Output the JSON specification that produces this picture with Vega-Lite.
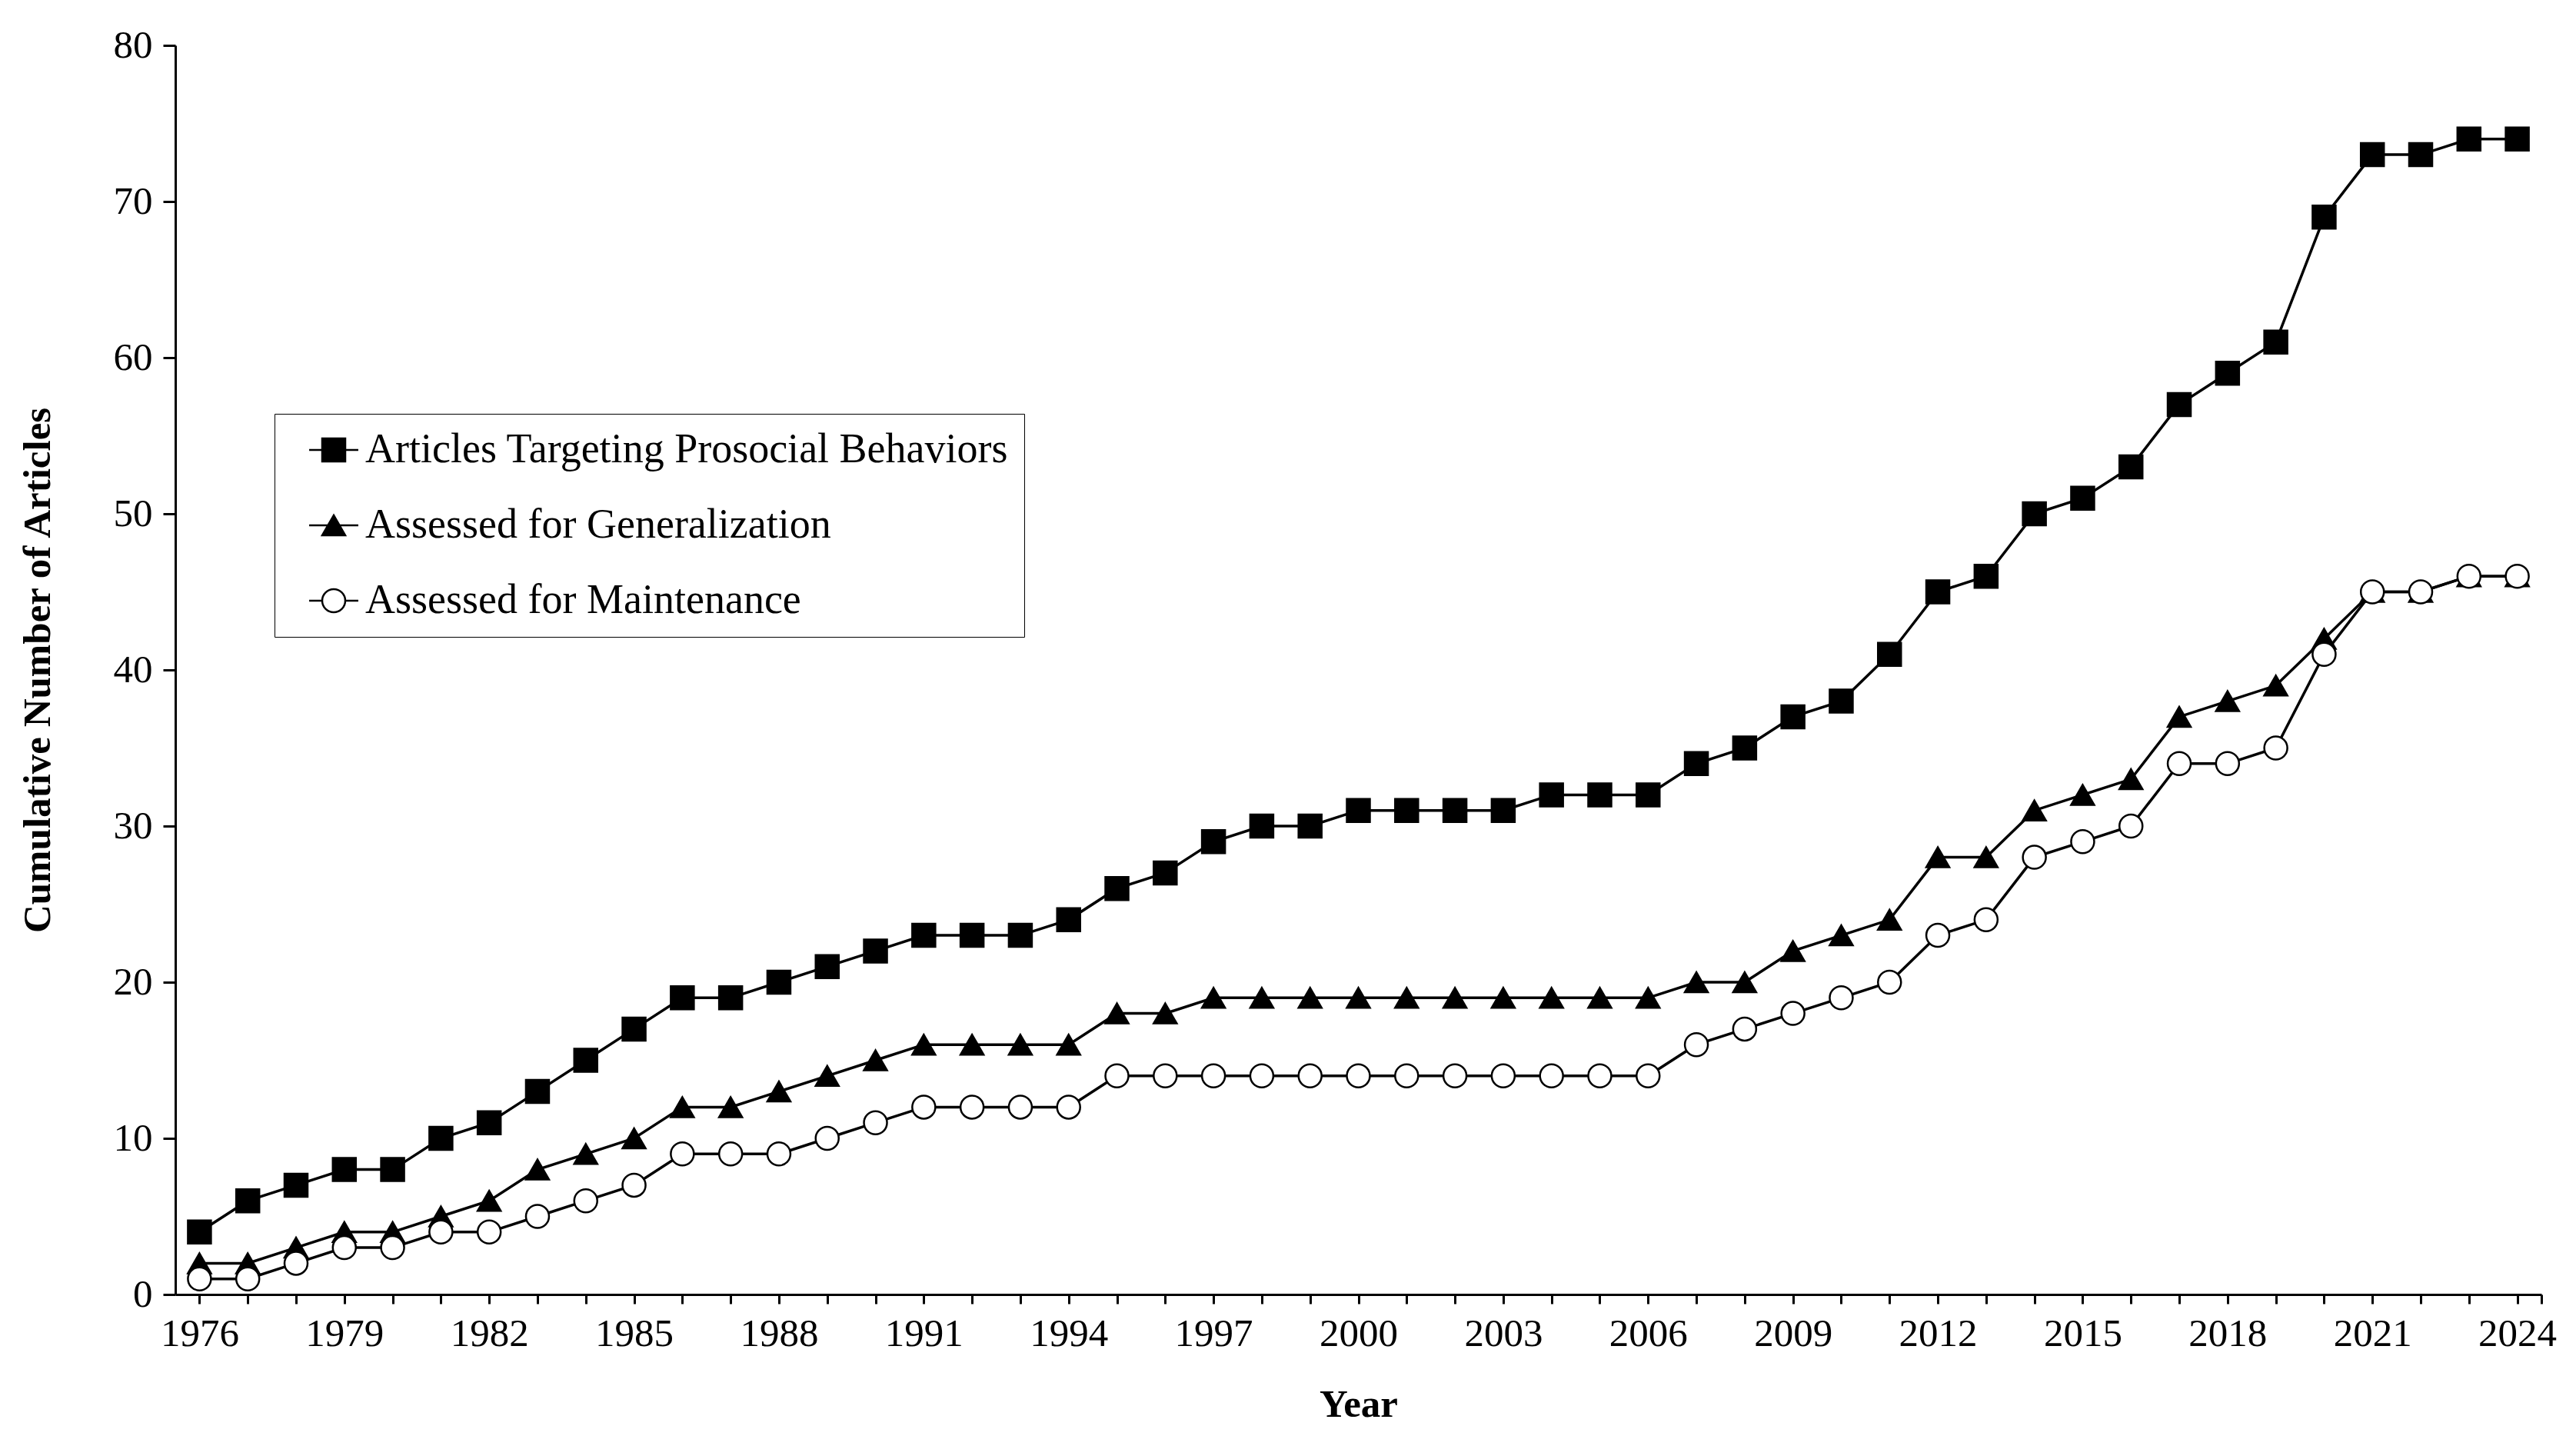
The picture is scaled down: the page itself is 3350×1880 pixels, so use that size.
{
  "$schema": "https://vega.github.io/schema/vega-lite/v6.json",
  "width": 3077,
  "height": 1624,
  "autosize": {"type": "none"},
  "padding": {"left": 228, "top": 59, "right": 45, "bottom": 197},
  "background": "white",
  "config": {
    "view": {"stroke": null},
    "font": "Liberation Serif",
    "axis": {
      "labelFont": "Liberation Serif",
      "titleFont": "Liberation Serif",
      "labelColor": "black",
      "titleColor": "black",
      "domainColor": "black",
      "tickColor": "black",
      "domainWidth": 3,
      "tickWidth": 3,
      "grid": false,
      "labelFontSize": 51,
      "titleFontSize": 51,
      "titleFontWeight": "bold"
    },
    "legend": {
      "title": null,
      "orient": "none",
      "legendX": 129,
      "legendY": 479,
      "padding": 20,
      "fillColor": "white",
      "strokeColor": "black",
      "cornerRadius": 0,
      "labelFont": "Liberation Serif",
      "labelFontSize": 54,
      "labelColor": "black",
      "labelLimit": 2000,
      "rowPadding": 44,
      "symbolSize": 900,
      "symbolStrokeWidth": 2.5,
      "symbolOffset": 30,
      "labelOffset": 14
    }
  },
  "data": {
    "values": [
      {"year":1976,"Articles":4,"Generalization":2,"Maintenance":1},
      {"year":1977,"Articles":6,"Generalization":2,"Maintenance":1},
      {"year":1978,"Articles":7,"Generalization":3,"Maintenance":2},
      {"year":1979,"Articles":8,"Generalization":4,"Maintenance":3},
      {"year":1980,"Articles":8,"Generalization":4,"Maintenance":3},
      {"year":1981,"Articles":10,"Generalization":5,"Maintenance":4},
      {"year":1982,"Articles":11,"Generalization":6,"Maintenance":4},
      {"year":1983,"Articles":13,"Generalization":8,"Maintenance":5},
      {"year":1984,"Articles":15,"Generalization":9,"Maintenance":6},
      {"year":1985,"Articles":17,"Generalization":10,"Maintenance":7},
      {"year":1986,"Articles":19,"Generalization":12,"Maintenance":9},
      {"year":1987,"Articles":19,"Generalization":12,"Maintenance":9},
      {"year":1988,"Articles":20,"Generalization":13,"Maintenance":9},
      {"year":1989,"Articles":21,"Generalization":14,"Maintenance":10},
      {"year":1990,"Articles":22,"Generalization":15,"Maintenance":11},
      {"year":1991,"Articles":23,"Generalization":16,"Maintenance":12},
      {"year":1992,"Articles":23,"Generalization":16,"Maintenance":12},
      {"year":1993,"Articles":23,"Generalization":16,"Maintenance":12},
      {"year":1994,"Articles":24,"Generalization":16,"Maintenance":12},
      {"year":1995,"Articles":26,"Generalization":18,"Maintenance":14},
      {"year":1996,"Articles":27,"Generalization":18,"Maintenance":14},
      {"year":1997,"Articles":29,"Generalization":19,"Maintenance":14},
      {"year":1998,"Articles":30,"Generalization":19,"Maintenance":14},
      {"year":1999,"Articles":30,"Generalization":19,"Maintenance":14},
      {"year":2000,"Articles":31,"Generalization":19,"Maintenance":14},
      {"year":2001,"Articles":31,"Generalization":19,"Maintenance":14},
      {"year":2002,"Articles":31,"Generalization":19,"Maintenance":14},
      {"year":2003,"Articles":31,"Generalization":19,"Maintenance":14},
      {"year":2004,"Articles":32,"Generalization":19,"Maintenance":14},
      {"year":2005,"Articles":32,"Generalization":19,"Maintenance":14},
      {"year":2006,"Articles":32,"Generalization":19,"Maintenance":14},
      {"year":2007,"Articles":34,"Generalization":20,"Maintenance":16},
      {"year":2008,"Articles":35,"Generalization":20,"Maintenance":17},
      {"year":2009,"Articles":37,"Generalization":22,"Maintenance":18},
      {"year":2010,"Articles":38,"Generalization":23,"Maintenance":19},
      {"year":2011,"Articles":41,"Generalization":24,"Maintenance":20},
      {"year":2012,"Articles":45,"Generalization":28,"Maintenance":23},
      {"year":2013,"Articles":46,"Generalization":28,"Maintenance":24},
      {"year":2014,"Articles":50,"Generalization":31,"Maintenance":28},
      {"year":2015,"Articles":51,"Generalization":32,"Maintenance":29},
      {"year":2016,"Articles":53,"Generalization":33,"Maintenance":30},
      {"year":2017,"Articles":57,"Generalization":37,"Maintenance":34},
      {"year":2018,"Articles":59,"Generalization":38,"Maintenance":34},
      {"year":2019,"Articles":61,"Generalization":39,"Maintenance":35},
      {"year":2020,"Articles":69,"Generalization":42,"Maintenance":41},
      {"year":2021,"Articles":73,"Generalization":45,"Maintenance":45},
      {"year":2022,"Articles":73,"Generalization":45,"Maintenance":45},
      {"year":2023,"Articles":74,"Generalization":46,"Maintenance":46},
      {"year":2024,"Articles":74,"Generalization":46,"Maintenance":46}
    ]
  },
  "transform": [
    {"fold": ["Articles", "Generalization", "Maintenance"], "as": ["series", "count"]}
  ],
  "encoding": {
    "x": {
      "field": "year",
      "type": "quantitative",
      "scale": {"domain": [1975.5, 2024.5], "nice": false, "zero": false},
      "axis": {
        "title": "Year",
        "values": [1976,1977,1978,1979,1980,1981,1982,1983,1984,1985,1986,1987,1988,1989,1990,1991,1992,1993,1994,1995,1996,1997,1998,1999,2000,2001,2002,2003,2004,2005,2006,2007,2008,2009,2010,2011,2012,2013,2014,2015,2016,2017,2018,2019,2020,2021,2022,2023,2024,2024.5],
        "format": "d",
        "labelExpr": "datum.value % 3 == 2 ? datum.label : ''",
        "labelOverlap": false,
        "labelFlush": false,
        "tickSize": 12,
        "labelPadding": 14,
        "titlePadding": 42
      }
    },
    "y": {
      "field": "count",
      "type": "quantitative",
      "scale": {"domain": [0, 80], "nice": false},
      "axis": {
        "title": "Cumulative Number of Articles",
        "values": [0,10,20,30,40,50,60,70,80],
        "tickSize": 16,
        "labelPadding": 14,
        "titlePadding": 72,
        "labelFlush": false
      }
    }
  },
  "layer": [
    {
      "mark": {"type": "line", "color": "black", "strokeWidth": 3.5},
      "encoding": {"detail": {"field": "series"}}
    },
    {
      "transform": [{"filter": "datum.count < 0"}],
      "mark": {"type": "point", "filled": false, "size": 900, "stroke": "black", "strokeWidth": 2.5, "opacity": 1},
      "encoding": {
        "shape": {
          "field": "series",
          "type": "nominal",
          "scale": {"domain": ["Articles", "Generalization", "Maintenance"], "range": ["M-2.13,0H2.13M-1,-1H1V1H-1Z", "M-2.13,0H2.13M0,-0.87L1,0.87H-1Z", "M-2.13,0H-1M1,0H2.13M-1,0A1,1,0,1,0,1,0A1,1,0,1,0,-1,0Z"]},
          "legend": {
            "labelExpr": "datum.value == 'Articles' ? 'Articles Targeting Prosocial Behaviors' : datum.value == 'Generalization' ? 'Assessed for Generalization' : 'Assessed for Maintenance'"
          }
        },
        "fill": {
          "field": "series",
          "type": "nominal",
          "scale": {"domain": ["Articles", "Generalization", "Maintenance"], "range": ["black", "black", "white"]},
          "legend": {
            "labelExpr": "datum.value == 'Articles' ? 'Articles Targeting Prosocial Behaviors' : datum.value == 'Generalization' ? 'Assessed for Generalization' : 'Assessed for Maintenance'"
          }
        },
        "stroke": {
          "field": "series",
          "type": "nominal",
          "scale": {"domain": ["Articles", "Generalization", "Maintenance"], "range": ["black", "black", "black"]},
          "legend": {
            "labelExpr": "datum.value == 'Articles' ? 'Articles Targeting Prosocial Behaviors' : datum.value == 'Generalization' ? 'Assessed for Generalization' : 'Assessed for Maintenance'"
          }
        }
      }
    },
    {
      "mark": {"type": "point", "filled": false, "size": 900, "stroke": "black", "strokeWidth": 2.5, "opacity": 1},
      "encoding": {
        "shape": {
          "field": "series",
          "type": "nominal",
          "scale": {"domain": ["Articles", "Generalization", "Maintenance"], "range": ["square", "triangle-up", "circle"]},
          "legend": null
        },
        "fill": {
          "field": "series",
          "type": "nominal",
          "scale": {"domain": ["Articles", "Generalization", "Maintenance"], "range": ["black", "black", "white"]},
          "legend": null
        }
      }
    }
  ],
  "resolve": {"scale": {"shape": "independent", "fill": "independent", "stroke": "independent"}}
}
